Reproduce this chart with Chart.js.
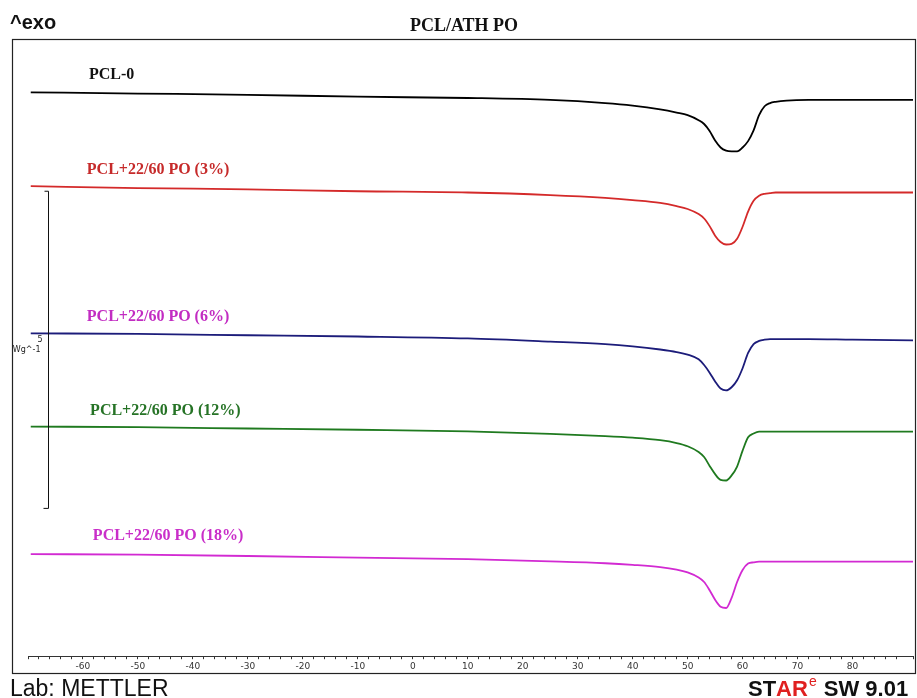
<!DOCTYPE html>
<html>
<head>
<meta charset="utf-8">
<script src="https://cdn.jsdelivr.net/npm/chart.js@4.4.1/dist/chart.umd.min.js"></script>
<style>
  body { margin: 0; background: #fff; }
</style>
</head>
<body>
<canvas id="dscChart" width="917" height="698"></canvas>
<script>
// temperature, °C
const temps = [-69.5, -50, -30, -10, 10, 25, 35, 40, 45, 48, 50, 52, 53, 54, 55, 56, 57, 58, 59, 60, 61, 62, 63, 64, 65, 66, 68, 72, 80, 91];

// heat flow, W/g (curves are offset, as in the original plot)
const pcl0 = [8.89, 8.87, 8.85, 8.82, 8.80, 8.77, 8.72, 8.68, 8.62, 8.57, 8.53, 8.45, 8.39, 8.28, 8.13, 8.02, 7.97, 7.96, 7.96, 8.02, 8.12, 8.29, 8.53, 8.67, 8.72, 8.74, 8.76, 8.77, 8.77, 8.77];
const po3 = [7.41, 7.38, 7.36, 7.33, 7.31, 7.27, 7.225, 7.19, 7.145, 7.095, 7.05, 6.97, 6.90, 6.78, 6.63, 6.53, 6.49, 6.50, 6.58, 6.77, 7.01, 7.18, 7.26, 7.29, 7.30, 7.31, 7.31, 7.31, 7.31, 7.31];
const po6 = [5.09, 5.08, 5.06, 5.04, 5.01, 4.96, 4.92, 4.885, 4.835, 4.795, 4.755, 4.68, 4.59, 4.47, 4.33, 4.22, 4.19, 4.24, 4.35, 4.54, 4.78, 4.92, 4.97, 4.99, 5.00, 5.00, 5.00, 5.00, 4.99, 4.98];
const po12 = [3.62, 3.61, 3.59, 3.57, 3.545, 3.505, 3.47, 3.445, 3.405, 3.36, 3.31, 3.22, 3.14, 3.00, 2.87, 2.78, 2.77, 2.85, 2.99, 3.24, 3.45, 3.51, 3.54, 3.54, 3.54, 3.54, 3.54, 3.54, 3.54, 3.54];
const po18 = [1.61, 1.60, 1.58, 1.555, 1.53, 1.495, 1.465, 1.44, 1.405, 1.365, 1.32, 1.24, 1.17, 1.04, 0.89, 0.78, 0.76, 0.92, 1.17, 1.36, 1.46, 1.48, 1.49, 1.49, 1.49, 1.49, 1.49, 1.49, 1.49, 1.49];

const seriesNames = ['PCL-0', 'PCL+22/60 PO (3%)', 'PCL+22/60 PO (6%)', 'PCL+22/60 PO (12%)', 'PCL+22/60 PO (18%)'];
const seriesValues = [pcl0, po3, po6, po12, po18];
const lineColors = ['#000000', '#d42a2a', '#1c1c7a', '#1f7a1f', '#d22ad2'];
const nameColors = ['#111111', '#c62a2a', '#c22cc2', '#267326', '#c92ec9'];

const scaleBar = 5; // W/g

function toPoints(values) {
    return temps.map((t, i) => ({ x: t, y: values[i] }));
}

const datasets = seriesValues.map((vals, i) => ({
    label: seriesNames[i],
    data: toPoints(vals),
    borderColor: lineColors[i],
    borderWidth: 1.8,
    pointRadius: 0,
    cubicInterpolationMode: 'monotone',
    fill: false
}));

// frame, curve names, scale bar and the page texts
const decorations = {
    id: 'decorations',
    afterDraw(chart) {
        const ctx = chart.ctx;
        const xs = chart.scales.x, ys = chart.scales.y;
        ctx.save();

        ctx.strokeStyle = '#222';
        ctx.lineWidth = 1.2;
        ctx.strokeRect(12.5, 39.5, 903, 634);

        // curve names
        const namePos = [[-58.9, 9.16], [-59.3, 7.66], [-59.3, 5.35], [-58.7, 3.86], [-58.2, 1.90]];
        ctx.font = 'bold 16px "Liberation Serif", serif';
        ctx.textBaseline = 'middle';
        ctx.textAlign = 'left';
        seriesNames.forEach((n, i) => {
            ctx.fillStyle = nameColors[i];
            ctx.fillText(n, xs.getPixelForValue(namePos[i][0]), ys.getPixelForValue(namePos[i][1]));
        });

        // 5 W/g scale bar
        const bx = Math.round(xs.getPixelForValue(-66.4)) + 0.5;
        const top = ys.getPixelForValue(7.33);
        const bot = ys.getPixelForValue(7.33 - scaleBar);
        ctx.strokeStyle = '#111';
        ctx.lineWidth = 1;
        ctx.beginPath();
        ctx.moveTo(bx - 4, top); ctx.lineTo(bx, top);
        ctx.lineTo(bx, bot); ctx.lineTo(bx - 5, bot);
        ctx.stroke();
        ctx.fillStyle = '#222';
        ctx.font = '8px "DejaVu Sans", sans-serif';
        ctx.textAlign = 'right';
        ctx.fillText(String(scaleBar), bx - 6, (top + bot) / 2 - 10);
        ctx.fillText('Wg^-1', bx - 8, (top + bot) / 2);

        // page texts
        ctx.textAlign = 'left';
        ctx.textBaseline = 'alphabetic';
        ctx.fillStyle = '#111';
        ctx.font = 'bold 20px "Liberation Sans", Arial, sans-serif';
        ctx.fillText('^exo', 10, 29);

        ctx.textAlign = 'center';
        ctx.font = 'bold 18px "Liberation Serif", serif';
        ctx.fillText('PCL/ATH PO', 464, 31);

        ctx.textAlign = 'left';
        ctx.font = '23px "Liberation Sans", Arial, sans-serif';
        ctx.fillText('Lab: METTLER', 10, 696);

        ctx.font = 'bold 22px "Liberation Sans", Arial, sans-serif';
        let x = 748;
        ctx.fillStyle = '#111';
        ctx.fillText('ST', x, 696); x += ctx.measureText('ST').width;
        ctx.fillStyle = '#e02020';
        ctx.fillText('AR', x, 696); x += ctx.measureText('AR').width;
        ctx.font = '14px "Liberation Sans", Arial, sans-serif';
        ctx.fillText('e', x + 1, 686); x += ctx.measureText('e').width + 2;
        ctx.fillStyle = '#111';
        ctx.font = 'bold 22px "Liberation Sans", Arial, sans-serif';
        ctx.fillText(' SW 9.01', x, 696);

        ctx.restore();
    }
};

new Chart(document.getElementById('dscChart'), {
    type: 'line',
    data: { datasets: datasets },
    options: {
        responsive: false,
        animation: false,
        layout: { padding: { left: 28, right: 4, top: 39, bottom: 24 } },
        scales: {
            x: {
                type: 'linear',
                min: -70,
                max: 91,
                border: { display: true, color: '#333', width: 1 },
                grid: { drawOnChartArea: false, color: '#333', tickLength: 3 },
                ticks: {
                    stepSize: 2,
                    autoSkip: false,
                    maxRotation: 0,
                    padding: 2,
                    color: '#333',
                    font: { size: 9, family: '"DejaVu Sans", sans-serif' },
                    callback: function (v) {
                        if (v === 90) return '°C';
                        if (v % 10 === 0 && v > -70 && v < 90) return String(v);
                        return '';
                    }
                }
            },
            y: {
                type: 'linear',
                display: false,
                min: 0,
                max: 9.73
            }
        },
        plugins: {
            legend: { display: false },
            tooltip: { enabled: false }
        }
    },
    plugins: [decorations]
});
</script>
</body>
</html>
